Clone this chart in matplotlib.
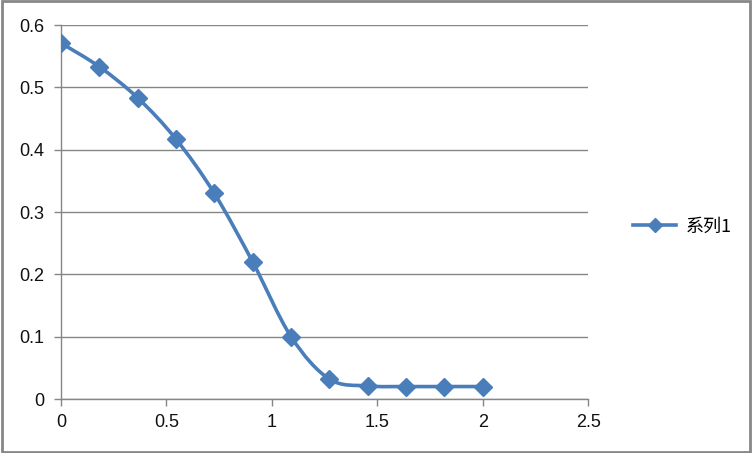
import numpy as np
import matplotlib.pyplot as plt
from matplotlib.path import Path
from matplotlib.patches import PathPatch
from matplotlib.lines import Line2D

plt.rcParams['font.family'] = ['Liberation Sans', 'Noto Sans CJK SC', 'DejaVu Sans']

# series values
x_vals = [0, 0.182, 0.364, 0.545, 0.727, 0.909, 1.091, 1.273, 1.455, 1.636, 1.818, 2.0]
y_vals = [0.571, 0.533, 0.483, 0.417, 0.330, 0.220, 0.100, 0.032, 0.021, 0.020, 0.020, 0.020]
series_name = "系列1"

line_color = "#4A7EBB"
grid_color = "#868686"

fig = plt.figure(figsize=(7.52, 4.53), dpi=100)
ax = fig.add_axes([0.0811, 0.1192, 0.701, 0.8256])

# smoothed line like Excel (Catmull-Rom as cubic Bezier segments)
pts = np.column_stack([x_vals, y_vals])
ext = np.vstack([pts[0], pts, pts[-1]])
verts = [tuple(pts[0])]
codes = [Path.MOVETO]
for i in range(1, len(ext) - 2):
    p0, p1, p2, p3 = ext[i - 1], ext[i], ext[i + 1], ext[i + 2]
    c1 = p1 + (p2 - p0) / 6
    c2 = p2 - (p3 - p1) / 6
    verts += [tuple(c1), tuple(c2), tuple(p2)]
    codes += [Path.CURVE4] * 3
ax.add_patch(PathPatch(Path(verts, codes), facecolor="none", edgecolor=line_color,
                       linewidth=2.6, capstyle="round", zorder=3))
ax.plot(x_vals, y_vals, linestyle="none", marker="D", markersize=9,
        color=line_color, zorder=4)

ax.set_xlim(0, 2.5)
ax.set_ylim(0, 0.6)
ax.set_xticks([0, 0.5, 1, 1.5, 2, 2.5])
ax.set_xticklabels(["0", "0.5", "1", "1.5", "2", "2.5"])
ax.set_yticks([0, 0.1, 0.2, 0.3, 0.4, 0.5, 0.6])
ax.set_yticklabels(["0", "0.1", "0.2", "0.3", "0.4", "0.5", "0.6"])
ax.yaxis.grid(True, color=grid_color, linewidth=1)
ax.set_axisbelow(True)
for s in ["top", "right"]:
    ax.spines[s].set_visible(False)
for s in ["left", "bottom"]:
    ax.spines[s].set_color(grid_color)
    ax.spines[s].set_linewidth(1)
ax.tick_params(axis="both", colors=grid_color, labelcolor="#111111", labelsize=13,
               length=5, width=1)
ax.tick_params(axis="y", pad=7)
ax.tick_params(axis="x", pad=6)

handle = Line2D([], [], color=line_color, linewidth=2.6, marker="D", markersize=7)
fig.legend([handle], [series_name], loc="center left", bbox_to_anchor=(0.82, 0.5),
           frameon=False, handlelength=2.4, handletextpad=0.5,
           prop={"family": ["Noto Sans CJK SC", "DejaVu Sans"], "size": 13})

# outer chart border
fig.patches.append(plt.Rectangle((0.002, 0.003), 0.995, 0.994, transform=fig.transFigure,
                                 fill=False, edgecolor="#878787", linewidth=2))

fig.savefig("out.png", dpi=100)
